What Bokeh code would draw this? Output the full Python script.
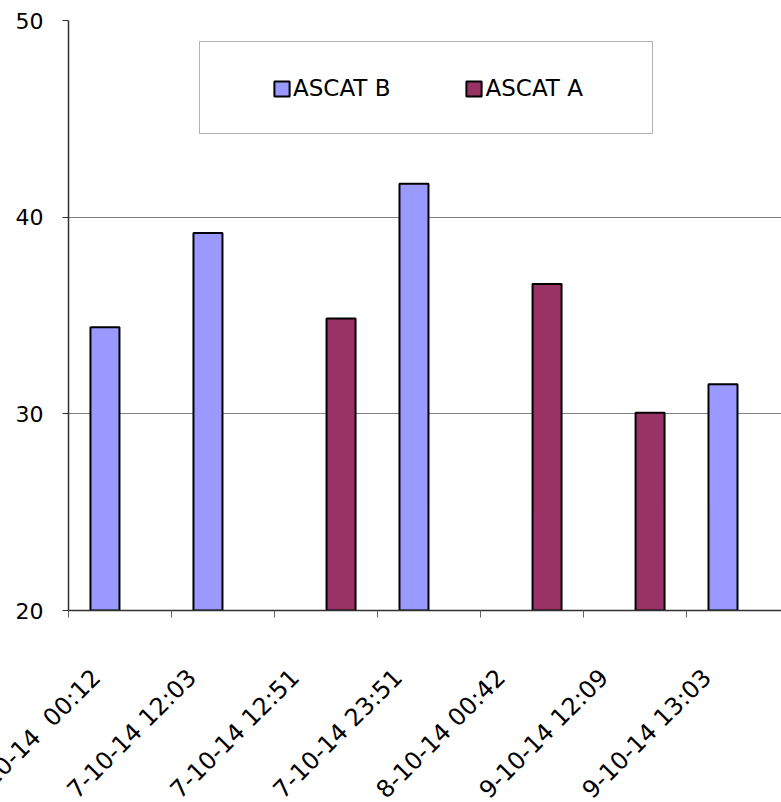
import numpy as np
from bokeh.plotting import figure
from bokeh.models import (ColumnDataSource, FixedTicker, Range1d, Legend, LegendItem,
                          BoxAnnotation)
from bokeh.embed import file_html
from bokeh.resources import INLINE

categories = ["7-10-14 \u00a000:12", "7-10-14 12:03", "7-10-14 12:51", "7-10-14 23:51",
              "8-10-14 00:42", "9-10-14 12:09", "9-10-14 13:03"]
nan = float("nan")
ascat_b = [34.4, 39.2, nan, 41.7, nan, nan, 31.5]
ascat_a = [nan, nan, 34.85, nan, 36.6, 30.05, nan]
y_ticks = [20, 30, 40, 50]

FONT = "DejaVu Sans"
SHIFT = 40  # canvas starts left of the page so the first label is clipped like the reference
idx = np.arange(len(categories))
src = ColumnDataSource(dict(xb=idx - 0.146, xa=idx + 0.146, b=ascat_b, a=ascat_a))

p = figure(frame_width=713, frame_height=590, output_backend="svg", toolbar_location=None,
           x_range=Range1d(-0.5, 6.422), y_range=Range1d(y_ticks[0], y_ticks[-1]),
           min_border_left=68 + SHIFT, min_border_right=0, min_border_top=20, min_border_bottom=0)
p.styles = {"margin-left": f"-{SHIFT}px"}
p.outline_line_color = None
p.background_fill_color = "white"

box = BoxAnnotation(left=131, right=584, bottom=477, top=569,
                    left_units="screen", right_units="screen", bottom_units="screen", top_units="screen",
                    fill_color="white", fill_alpha=1, line_color="black", line_width=1)
p.add_layout(box)

rb = p.vbar(x="xb", top="b", bottom=y_ticks[0], width=0.2816, source=src,
            fill_color="#9999FF", line_color="black", line_width=2)
ra = p.vbar(x="xa", top="a", bottom=y_ticks[0], width=0.2816, source=src,
            fill_color="#993366", line_color="black", line_width=2)

# y axis
p.yaxis.ticker = FixedTicker(ticks=y_ticks)
p.yaxis.major_tick_out = 6
p.yaxis.major_tick_in = 0
p.yaxis.minor_tick_line_color = None
p.yaxis.axis_line_color = "#303030"
p.yaxis.axis_line_width = 1.5
p.yaxis.major_tick_line_color = "#303030"
p.yaxis.major_label_standoff = 19
p.yaxis.major_label_text_font = FONT
p.yaxis.major_label_text_font_size = "22px"
p.yaxis.major_label_text_color = "black"

# x axis: tick marks at category boundaries, rotated labels ending left of centre
label_pos = [float(i) - 0.30 for i in idx]
p.xaxis.ticker = FixedTicker(ticks=label_pos, minor_ticks=list(idx - 0.5) + [len(categories) - 0.5])
p.xaxis.major_label_overrides = {pos: c for pos, c in zip(label_pos, categories)}
p.xaxis.major_tick_line_color = None
p.xaxis.major_tick_out = 0
p.xaxis.major_tick_in = 0
p.xaxis.minor_tick_out = 7
p.xaxis.minor_tick_in = 0
p.xaxis.minor_tick_line_color = "#606060"
p.xaxis.axis_line_color = "#303030"
p.xaxis.axis_line_width = 1.5
p.xaxis.major_label_orientation = np.pi / 4
p.xaxis.major_label_standoff = 56
p.xaxis.major_label_text_font = FONT
p.xaxis.major_label_text_font_size = "24px"
p.xaxis.major_label_text_color = "black"

p.xgrid.grid_line_color = None
p.ygrid.ticker = FixedTicker(ticks=y_ticks)
p.ygrid.grid_line_color = "#808080"
p.ygrid.grid_line_width = 1.2

legend = Legend(items=[LegendItem(label="ASCAT B", renderers=[rb]),
                       LegendItem(label="ASCAT A", renderers=[ra])],
                orientation="horizontal", location=(204, 509),
                padding=0, spacing=74, margin=0,
                glyph_width=19, glyph_height=19, label_standoff=2,
                label_text_font=FONT, label_text_font_size="23px", label_text_color="black",
                border_line_color=None, background_fill_alpha=0)
p.add_layout(legend, "center")

open("out.html", "w").write(file_html(p, INLINE))
